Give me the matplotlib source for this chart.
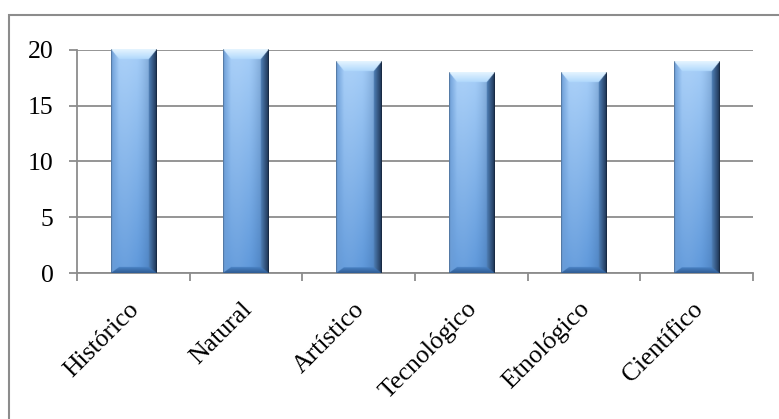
import numpy as np
import matplotlib
matplotlib.use("Agg")
import matplotlib.pyplot as plt
from matplotlib.patches import Rectangle
from matplotlib.transforms import ScaledTranslation

# Datos del grafico
categorias = ['Histórico', 'Natural', 'Artístico', 'Tecnológico', 'Etnológico', 'Científico']
valores = [20, 20, 19, 18, 18, 19]
y_ticks = [0, 5, 10, 15, 20]

plt.rcParams['font.family'] = ['Liberation Serif', 'DejaVu Serif']


def hex2rgb(h):
    h = h.lstrip('#')
    return np.array([int(h[i:i + 2], 16) for i in (0, 2, 4)]) / 255.0


def mezcla(c1, c2, t):
    t = np.clip(t, 0, 1)[..., None]
    return c1 * (1 - t) + c2 * t


def imagen_barra(wpx, hpx, esc=3):
    """Imagen tipo Excel con bisel para una barra de wpx x hpx pixeles"""
    W = max(int(wpx * esc), 2)
    H = max(int(hpx * esc), 2)
    xx, yy = np.meshgrid((np.arange(W) + 0.5) / esc, (np.arange(H) + 0.5) / esc)
    u = xx / wpx                     # 0 izquierda -> 1 derecha
    v = yy / hpx                     # 0 arriba -> 1 abajo

    # cuerpo: degradado vertical + sombreado horizontal
    cuerpo = mezcla(hex2rgb('#a4cdf8'), hex2rgb('#5b96da'), v)
    oscuro = np.clip((u - 0.55) / 0.45, 0, 1) ** 1.5
    cuerpo = mezcla(cuerpo, hex2rgb('#2f5585'), oscuro * 0.55)
    claro = np.exp(-((u - 0.3) / 0.25) ** 2)
    cuerpo = mezcla(cuerpo, np.array([1.0, 1.0, 1.0]), claro * 0.08)

    b_lado, b_top, b_bot = 8.0, 10.0, 6.0
    dl = xx / b_lado
    dr = (wpx - xx) / b_lado
    dt = yy / b_top
    db = (hpx - yy) / b_bot
    d = np.stack([dl, dr, dt, db])
    cara = np.argmin(d, axis=0)
    dmin = np.min(d, axis=0)
    en_bisel = dmin < 1

    img = cuerpo.copy()
    izq = mezcla(hex2rgb('#6c9dd6'), cuerpo, dl)
    der = mezcla(hex2rgb('#1c3150'), hex2rgb('#4f7fb6'), dr)
    sup = mezcla(hex2rgb('#e6f5ff'), hex2rgb('#b0d8fc'), dt)
    inf = mezcla(hex2rgb('#2e5b92'), hex2rgb('#4a82c4'), db)
    for k, c in enumerate([izq, der, sup, inf]):
        m = en_bisel & (cara == k)
        img[m] = c[m]
    borde = (xx < 1) | (wpx - xx < 1)
    img[borde] = img[borde] * 0.75
    return img


fig = plt.figure(figsize=(7.79, 4.19), dpi=100)
fig.patch.set_facecolor('white')
ax = fig.add_axes([77 / 779, 1 - 273 / 419, (753 - 77) / 779, (273 - 50) / 419])

x = np.arange(len(categorias))
barras = ax.bar(x, valores, width=0.4, color='none', edgecolor='none', zorder=3)

ax.set_xlim(-0.5, len(categorias) - 0.5)
ax.set_ylim(0, 20)
ax.set_yticks(y_ticks)

# rejilla y ejes
gris = '#8c8c8c'
ax.set_axisbelow(True)
ax.yaxis.grid(True, color=gris, linewidth=1.3)
for s in ['top', 'right']:
    ax.spines[s].set_visible(False)
for s in ['left', 'bottom']:
    ax.spines[s].set_color(gris)
    ax.spines[s].set_linewidth(1.3)

ax.set_xticks(np.arange(-0.5, len(categorias), 1.0))
ax.set_xticklabels([])
ax.set_xticks(x, minor=True)
ax.set_xticklabels(categorias, minor=True, rotation=45, ha='right',
                   rotation_mode='anchor', fontsize=18.5)
ax.tick_params(axis='x', which='minor', length=0, pad=18)
ax.tick_params(axis='x', which='major', length=6, width=1.3, color=gris)
ax.tick_params(axis='y', length=6, width=1.3, color=gris, labelsize=18.5, pad=11)
desplaz = ScaledTranslation(-5 / 100, 0, fig.dpi_scale_trans)
for lbl in ax.get_xticklabels(minor=True):
    lbl.set_transform(lbl.get_transform() + desplaz)

# dibujar las barras con degradado
for b in barras:
    x0, w, h = b.get_x(), b.get_width(), b.get_height()
    p0 = ax.transData.transform((x0, 0))
    p1 = ax.transData.transform((x0 + w, h))
    wpx, hpx = abs(p1[0] - p0[0]), abs(p1[1] - p0[1])
    img = imagen_barra(wpx, hpx)
    ax.imshow(img, extent=(x0, x0 + w, 0, h), aspect='auto', zorder=3,
              interpolation='bilinear', clip_on=False)

ax.set_xlim(-0.5, len(categorias) - 0.5)
ax.set_ylim(0, 20)

# marco exterior
fig.add_artist(Rectangle((9 / 779, -0.1), 1.2, 1 - 15 / 419 + 0.1,
                         transform=fig.transFigure, fill=False,
                         edgecolor=gris, linewidth=1.5))

fig.savefig('out.png', dpi=100, facecolor='white')
